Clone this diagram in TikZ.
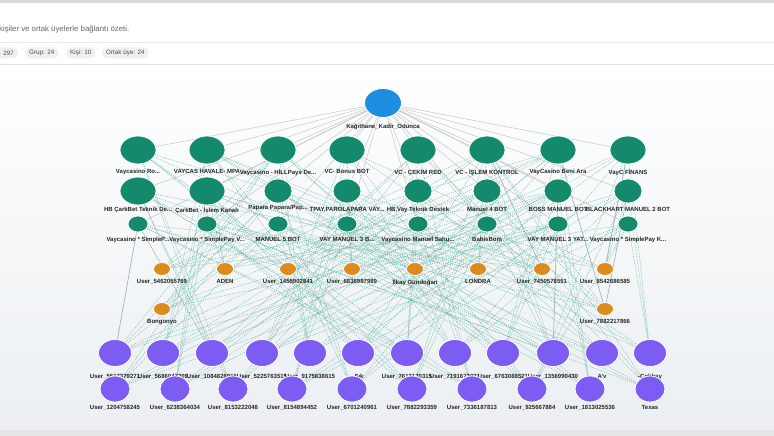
\documentclass[tikz,border=0pt]{standalone}
\usepackage{fontspec}
\setmainfont{Liberation Sans}
\usetikzlibrary{positioning, shapes.geometric, backgrounds}
\definecolor{rootblue}{HTML}{1E8FE0}
\definecolor{grpgreen}{HTML}{138A6C}
\definecolor{perorange}{HTML}{DD8A1F}
\definecolor{memviolet}{HTML}{7C5CF2}
\definecolor{linkteal}{HTML}{62B3A0}
\definecolor{linkgray}{HTML}{9DB7BE}
\definecolor{canvasgray}{HTML}{EBEFF2}

\begin{document}
\begin{tikzpicture}[
    x=1pt, y=-1pt,
    every label/.style={font=\fontsize{6}{7}\selectfont\bfseries, text=black!85, inner sep=0.5pt},
    nd/.style={ellipse, draw=white, line width=0.8pt, inner sep=0pt},
    rootnd/.style={nd, fill=rootblue, minimum width=37pt, minimum height=29pt, label={[yshift=-5pt]below:{#1}}},
    grpbig/.style={nd, fill=grpgreen, minimum width=36pt, minimum height=28pt, label={[yshift=-4pt]below:{#1}}},
    grpbigb/.style={nd, fill=grpgreen, minimum width=36pt, minimum height=28pt, label={[yshift=-1pt]below:{#1}}},
    grpmid/.style={nd, fill=grpgreen, minimum width=28pt, minimum height=24pt, label={[yshift=-3pt]below:{#1}}},
    grpmidhi/.style={nd, fill=grpgreen, minimum width=28pt, minimum height=24pt, label={[yshift=-1pt]below:{#1}}},
    grpsmall/.style={nd, fill=grpgreen, minimum width=20pt, minimum height=16pt, label={[yshift=-4pt]below:{#1}}},
    person/.style={nd, fill=perorange, minimum width=17pt, minimum height=13pt, label={[yshift=-3pt]below:{#1}}},
    membig/.style={nd, fill=memviolet, minimum width=33pt, minimum height=27pt, label={[yshift=-7pt]below:{#1}}},
    memsmall/.style={nd, fill=memviolet, minimum width=30pt, minimum height=26pt, label={[yshift=-2pt]below:{#1}}},
    chip/.style={rectangle, fill=black!6, rounded corners=5pt, minimum height=11pt, inner xsep=4pt, inner ysep=0pt, anchor=west, font=\fontsize{6.3}{7}\selectfont, text=black!70},
    tree/.style={draw=black!22, line width=0.5pt},
    link/.style={draw=linkteal, line width=0.5pt, dash pattern=on 1.2pt off 1pt, opacity=0.75},
    strong/.style={draw=linkgray, line width=0.7pt}
]
    \useasboundingbox (0,0) rectangle (774,436);

    % page and canvas
    \begin{scope}[on background layer]
        \fill[white] (0,0) rectangle (774,436);
        \fill[black!15] (0,0) rectangle (774,3);
        \draw[black!8] (0,42) -- (774,42);
        \shade[top color=white, bottom color=canvasgray] (0,65) rectangle (774,430);
        \draw[black!12] (0,64.5) -- (774,64.5);
        \fill[black!10] (0,430) rectangle (774,436);
    \end{scope}

    \node[anchor=west, font=\fontsize{7.8}{9}\selectfont, text=black!60, inner sep=0pt] (sub) at (-1,29) {kişiler ve ortak üyelerle bağlantı özeti.};
    \node[chip] (c1) at (-5,53) {: 297};
    \node[chip] (c2) at (25,53) {Grup: 24};
    \node[chip] (c3) at (66,53) {Kişi: 10};
    \node[chip] (c4) at (102,53) {Ortak üye: 24};

    % root
    \node[rootnd={Kağıthane\_Kadir\_Odunca}] (root) at (383,103) {};

    % groups, first row
    \node[grpbig={Vaycasino Ro...}] (g1) at (138,150) {};
    \node[grpbig={VAYCAS HAVALE- MPA}] (g2) at (207,150) {};
    \node[grpbig={Vaycasino - HİLLPays De...}] (g3) at (278,150) {};
    \node[grpbig={VC- Bonus BOT}] (g4) at (347,150) {};
    \node[grpbig={VC - ÇEKİM RED}] (g5) at (418,150) {};
    \node[grpbig={VC - İŞLEM KONTROL}] (g6) at (487,150) {};
    \node[grpbig={VayCasino Beni Ara}] (g7) at (558,150) {};
    \node[grpbig={VayC FİNANS}] (g8) at (628,150) {};

    % groups, second row
    \node[grpbigb={HB ÇarkBet Teknik De...}] (g9) at (138,191) {};
    \node[grpbigb={ÇarkBet - İşlem Kanalı}] (g10) at (207,191) {};
    \node[grpmidhi={Papara Papara/Pap...}] (g11) at (278,191) {};
    \node[grpmid={TPAY,PAROLAPARA VAY...}] (g12) at (347,191) {};
    \node[grpmid={HB,Vay Teknik Destek}] (g13) at (418,191) {};
    \node[grpmid={Manuel 4 BOT}] (g14) at (487,191) {};
    \node[grpmid={BOSS MANUEL BOT}] (g15) at (558,191) {};
    \node[grpmid={BLACKHART MANUEL 2 BOT}] (g16) at (628,191) {};

    % groups, third row
    \node[grpsmall={Vaycasino * SimpleP...}] (g17) at (138,224) {};
    \node[grpsmall={Vaycasino * SimplePay V...}] (g18) at (207,224) {};
    \node[grpsmall={MANUEL 5 BOT}] (g19) at (278,224) {};
    \node[grpsmall={VAY MANUEL 3 B...}] (g20) at (347,224) {};
    \node[grpsmall={Vaycasino Manuel Sahu...}] (g21) at (418,224) {};
    \node[grpsmall={BahisBom}] (g22) at (487,224) {};
    \node[grpsmall={VAY MANUEL 3 YAT...}] (g23) at (558,224) {};
    \node[grpsmall={Vaycasino * SimplePay K...}] (g24) at (628,224) {};

    % persons
    \node[person={User\_5462055769}] (o1) at (162,269) {};
    \node[person={ADEN}] (o2) at (225,269) {};
    \node[person={User\_1455902841}] (o3) at (288,269) {};
    \node[person={User\_6836997989}] (o4) at (352,269) {};
    \node[person={İlkay Gündoğan}] (o5) at (415,269) {};
    \node[person={LONDRA}] (o6) at (478,269) {};
    \node[person={User\_7450578551}] (o7) at (542,269) {};
    \node[person={User\_8542686585}] (o8) at (605,269) {};
    \node[person={Bongonyo}] (o9) at (162,309) {};
    \node[person={User\_7882217866}] (o10) at (605,309) {};

    % common members
    \node[membig={User\_5517379271}] (p1) at (115,353) {};
    \node[membig={User\_5686047209}] (p2) at (163,353) {};
    \node[membig={User\_1084826915}] (p3) at (212,353) {};
    \node[membig={User\_5225763515}] (p4) at (262,353) {};
    \node[membig={User\_9175838615}] (p5) at (310,353) {};
    \node[membig={-Şık}] (p6) at (358,353) {};
    \node[membig={User\_7613120315}] (p7) at (407,353) {};
    \node[membig={User\_7191672021}] (p8) at (455,353) {};
    \node[membig={User\_6763088521}] (p9) at (503,353) {};
    \node[membig={User\_1356990430}] (p10) at (553,353) {};
    \node[membig={A'v}] (p11) at (602,353) {};
    \node[membig={-Çolıbay}] (p12) at (650,353) {};

    \node[memsmall={User\_1204758245}] (p13) at (115,389) {};
    \node[memsmall={User\_6238364034}] (p14) at (175,389) {};
    \node[memsmall={User\_8153222048}] (p15) at (233,389) {};
    \node[memsmall={User\_8154894452}] (p16) at (292,389) {};
    \node[memsmall={User\_6701240961}] (p17) at (352,389) {};
    \node[memsmall={User\_7882293359}] (p18) at (412,389) {};
    \node[memsmall={User\_7336187813}] (p19) at (472,389) {};
    \node[memsmall={User\_925667884}] (p20) at (532,389) {};
    \node[memsmall={User\_1813025536}] (p21) at (590,389) {};
    \node[memsmall={Texas}] (p22) at (650,389) {};

    % connectors
    \begin{scope}[on background layer]
        \foreach \g in {1,...,24}
            \draw[tree] (root) -- (g\g);
        \foreach \g in {1,...,24}{
            \foreach \t in {1,...,10}{
                \pgfmathtruncatemacro{\k}{mod(\g*7+\t*11,4)}
                \ifnum\k=0 \draw[link] (g\g) -- (o\t); \fi
            }
            \foreach \t in {1,...,22}{
                \pgfmathtruncatemacro{\k}{mod(\g*5+\t*13,4)}
                \ifnum\k=0 \draw[link] (g\g) -- (p\t); \fi
            }
        }
        \foreach \a/\b in {g8/o8, g16/o10, g6/o7, g15/p10, g7/o10, g17/p1}
            \draw[strong] (\a) -- (\b);
    \end{scope}
\end{tikzpicture}
\end{document}
